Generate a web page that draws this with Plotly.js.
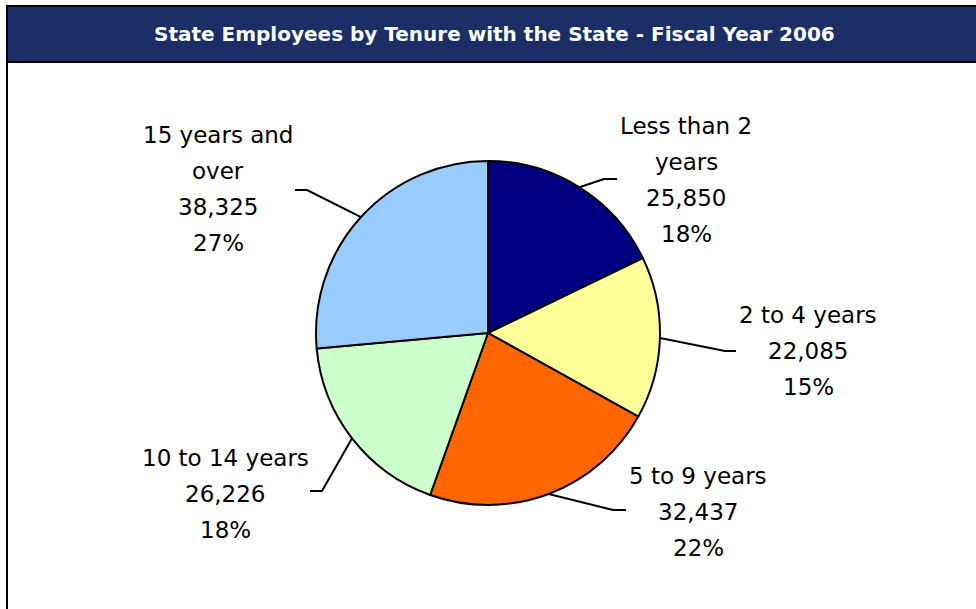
<!DOCTYPE html>
<html>
<head>
<meta charset="utf-8">
<script src="https://cdn.plot.ly/plotly-3.0.1.min.js"></script>
<style>html,body{margin:0;padding:0;background:#fff;}#chart{width:976px;height:609px;}</style>
</head>
<body>
<div id="chart"></div>
<script>
// ---- data ----
const categories = ["Less than 2 years", "2 to 4 years", "5 to 9 years", "10 to 14 years", "15 years and over"];
const categoryLines = [["Less than 2", "years"], ["2 to 4 years"], ["5 to 9 years"], ["10 to 14 years"], ["15 years and", "over"]];
const employees = [25850, 22085, 32437, 26226, 38325];
const shareLabels = ["18%", "15%", "22%", "18%", "27%"];
const sliceColors = ["#000080", "#FFFF99", "#FF6600", "#CCFFCC", "#99CCFF"];
const chartTitle = "State Employees by Tenure with the State - Fiscal Year 2006";

// ---- layout geometry (pixels) ----
const W = 976, H = 609;
const CX = 488, CY = 333, R = 172;
// label block: centre x, first line centre y
const labelAnchor = [[686, 126], [808, 315], [698, 476], [225, 458], [218, 135]];
// leader elbows: bend point and end of short horizontal tick
const leaderBend = [[604, 179, 617], [725, 351, 736], [613, 510, 626], [322, 491, 310], [307, 190, 295]];
const LINE_STEP = 36;
const FONT = "DejaVu Sans, Verdana, sans-serif";

const total = employees.reduce((a, b) => a + b, 0);
const shapes = [];
const annotations = [];

// title bar
shapes.push({type: "rect", xref: "x", yref: "y", x0: 7, x1: W + 20, y0: 6, y1: 62,
  fillcolor: "#1B2F66", line: {color: "#000", width: 2}, layer: "below"});
shapes.push({type: "line", xref: "x", yref: "y", x0: 7, x1: 7, y0: 62, y1: H + 10,
  line: {color: "#000", width: 2}});
annotations.push({xref: "x", yref: "y", x: 494, y: 34, text: "<b>" + chartTitle + "</b>",
  showarrow: false, font: {family: FONT, size: 20, color: "#fff"}, xanchor: "center", yanchor: "middle"});

let cum = 0;
employees.forEach((v, i) => {
  const mid = (cum + v / 2) / total * 2 * Math.PI;
  cum += v;
  const ex = CX + R * Math.sin(mid);
  const ey = CY - R * Math.cos(mid);
  const b = leaderBend[i];
  shapes.push({type: "path", xref: "x", yref: "y",
    path: `M ${ex} ${ey} L ${b[0]} ${b[1]} L ${b[2]} ${b[1]}`,
    line: {color: "#000", width: 2}});
  const lines = categoryLines[i].concat([v.toLocaleString("en-US"), shareLabels[i]]);
  lines.forEach((t, k) => {
    annotations.push({xref: "x", yref: "y", x: labelAnchor[i][0], y: labelAnchor[i][1] + k * LINE_STEP,
      text: t, showarrow: false, xanchor: "center", yanchor: "middle",
      font: {family: FONT, size: 23, color: "#000"}});
  });
});

const trace = {
  type: "pie",
  labels: categories,
  values: employees,
  sort: false,
  direction: "clockwise",
  rotation: 0,
  textinfo: "none",
  hoverinfo: "skip",
  showlegend: false,
  marker: {colors: sliceColors, line: {color: "#000", width: 2}},
  domain: {x: [(CX - R) / W, (CX + R) / W], y: [1 - (CY + R) / H, 1 - (CY - R) / H]}
};

const layout = {
  width: W, height: H,
  margin: {l: 0, r: 0, t: 0, b: 0},
  paper_bgcolor: "#fff", plot_bgcolor: "rgba(0,0,0,0)",
  xaxis: {range: [0, W], visible: false, fixedrange: true},
  yaxis: {range: [H, 0], visible: false, fixedrange: true},
  shapes: shapes,
  annotations: annotations,
  showlegend: false
};

Plotly.newPlot("chart", [trace], layout, {staticPlot: true, displayModeBar: false});
</script>
</body>
</html>
